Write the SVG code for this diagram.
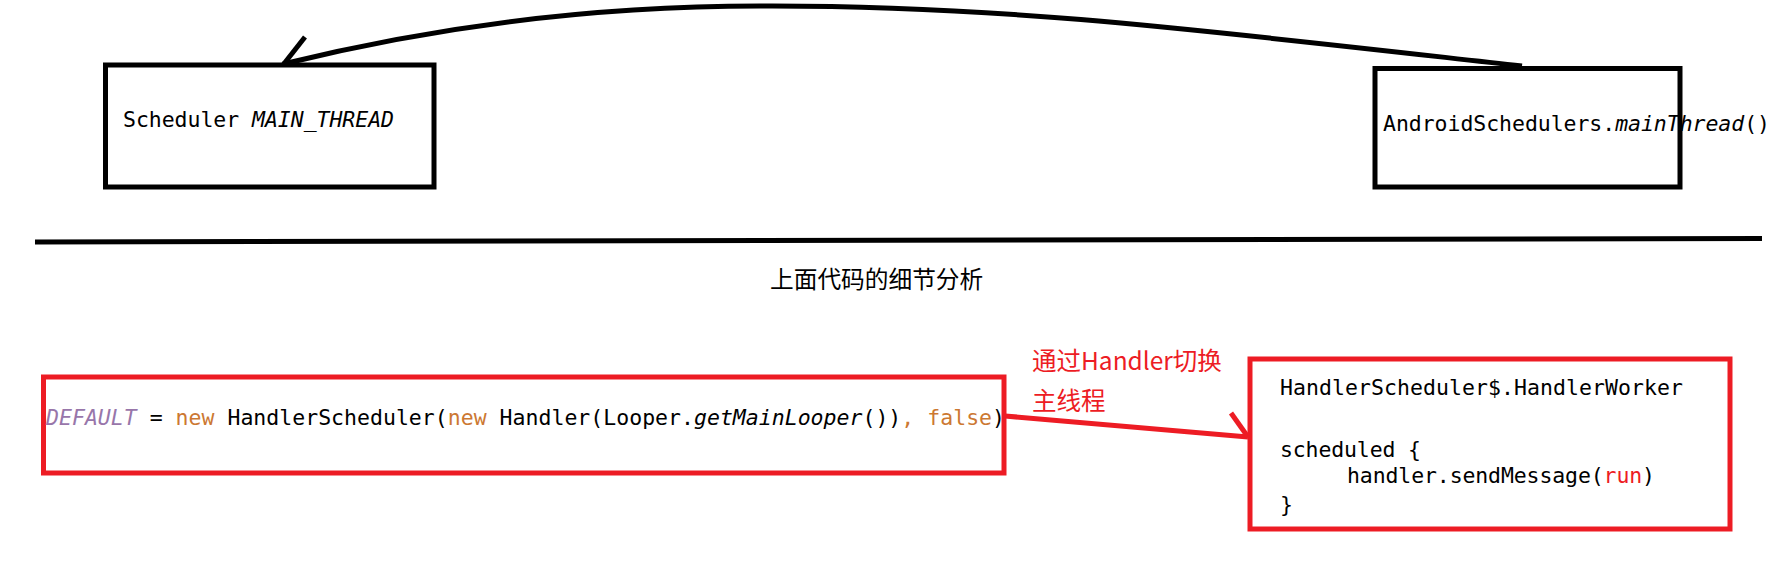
<svg xmlns="http://www.w3.org/2000/svg" width="1792" height="576" viewBox="0 0 1792 576">
<style>
.box{fill:none;stroke:#000;stroke-width:5}
.rbox{fill:none;stroke:#ED1C24;stroke-width:5}
.mono{font-family:"DejaVu Sans Mono","Liberation Mono",monospace;font-size:21.5px;fill:#000;white-space:pre}
.it{font-style:italic}
.kw{fill:#CC7832}
.cst{fill:#9876AA;font-style:italic}
.red{fill:#ED1C24}
.cjk{font-family:"Noto Sans CJK SC","Noto Sans",sans-serif}
.line{fill:none;stroke:#000;stroke-width:5}
.rline{fill:none;stroke:#ED1C24;stroke-width:5}
</style>
<rect width="1792" height="576" fill="#fff"/>
<g id="connectors">
<path class="line" d="M1522,66 C1200,30 1000,5 760,6 C560,6 400,35 283,64"/>
<path class="line" d="M305,37 L283,65"/>
<path class="line" d="M35,242 L1762,238.5"/>
<path class="rline" d="M1005,416 L1248,437"/>
<path class="rline" d="M1231,413 L1248,437"/>
</g>
<g id="node-main-thread">
<rect class="box" x="105.5" y="65" width="328.5" height="122"/>
<text class="mono" x="123" y="127" textLength="271">Scheduler <tspan class="it">MAIN_THREAD</tspan></text>
</g>
<g id="node-android-schedulers">
<rect class="box" x="1375" y="68.5" width="305" height="118.5"/>
<text class="mono" x="1383" y="131" textLength="387">AndroidSchedulers.<tspan class="it">mainThread</tspan>()</text>
</g>
<g id="section-title">
<text class="cjk" x="770" y="288" font-size="23.7" fill="#000">上面代码的细节分析</text>
</g>
<g id="node-default">
<rect class="rbox" x="43.5" y="377" width="960.5" height="96"/>
<text class="mono" x="46" y="425" textLength="959"><tspan class="cst">DEFAULT</tspan> = <tspan class="kw">new</tspan> HandlerScheduler(<tspan class="kw">new</tspan> Handler(Looper.<tspan class="it">getMainLooper</tspan>())<tspan class="kw">, false</tspan>)</text>
</g>
<g id="edge-label">
<text class="cjk red" x="1032" y="370" font-size="24.5">通过Handler切换</text>
<text class="cjk red" x="1032" y="410" font-size="24.5">主线程</text>
</g>
<g id="node-handler-worker">
<rect class="rbox" x="1250" y="359" width="480" height="170"/>
<text class="mono" x="1280" y="395" textLength="403">HandlerScheduler$.HandlerWorker</text>
<text class="mono" x="1280" y="457" textLength="141">scheduled {</text>
<text class="mono" x="1347" y="483" textLength="308">handler.sendMessage(<tspan class="red">run</tspan>)</text>
<text class="mono" x="1280" y="512">}</text>
</g>
</svg>
